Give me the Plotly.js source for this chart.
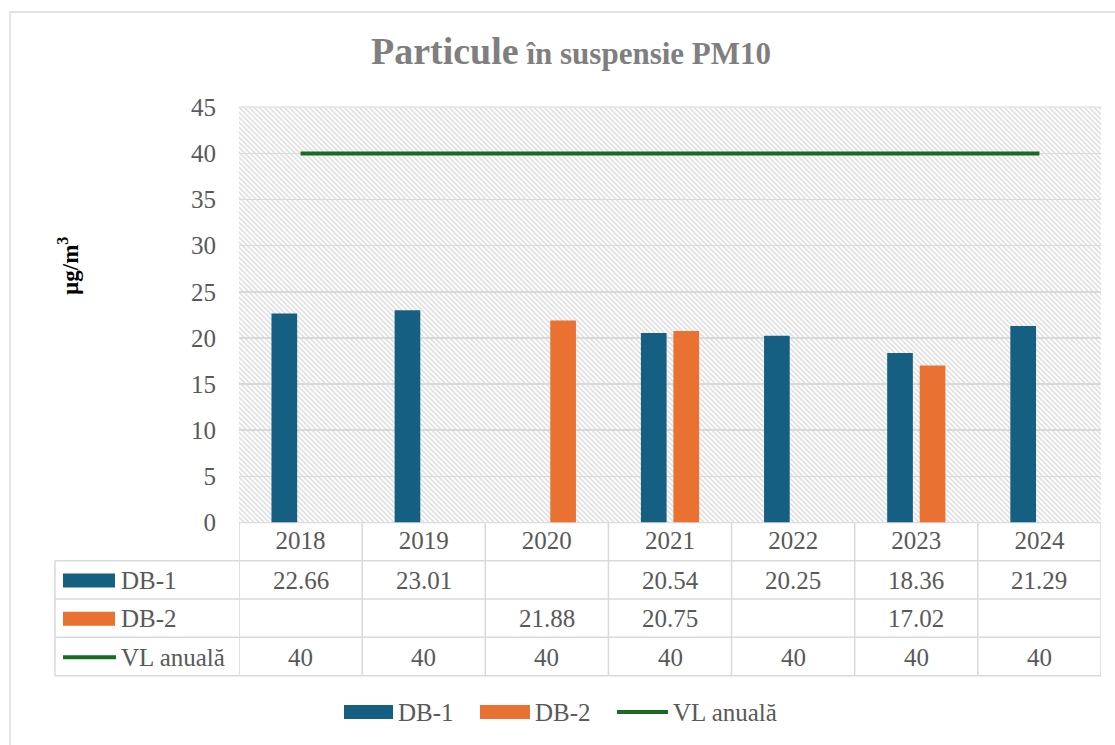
<!DOCTYPE html>
<html>
<head>
<meta charset="utf-8">
<script src="https://cdn.plot.ly/plotly-3.0.1.min.js"></script>
<style>html,body{margin:0;padding:0;background:#fff;}#chart{width:1115px;height:745px;}</style>
</head>
<body>
<div id="chart"></div>
<script>
// ---- data ----
const years = ['2018', '2019', '2020', '2021', '2022', '2023', '2024'];
const db1 = [22.66, 23.01, null, 20.54, 20.25, 18.36, 21.29];
const db2 = [null, null, 21.88, 20.75, null, 17.02, null];
const vlAnuala = [40, 40, 40, 40, 40, 40, 40];
const seriesNames = ['DB-1', 'DB-2', 'VL anuală'];
const yTicks = [0, 5, 10, 15, 20, 25, 30, 35, 40, 45];
const titleMain = 'Particule';
const titleRest = 'în suspensie PM10';
const yTitle = 'µg/m<sup>3</sup>';

// ---- styling ----
const W = 1115, H = 745;
const px = x => x / W;
const py = y => 1 - y / H;
const FONT = '"Liberation Serif", "Times New Roman", "DejaVu Serif", serif';
const TXT = '#595959';
const GRID = '#d9d9d9';
const C1 = '#156082', C2 = '#E97132', C3 = '#196B24';

const plotL = 239, plotR = 1101, plotT = 107.3, plotB = 522.5;
const rowLines = [560.7, 599, 637.3, 675.7];
const rowCenters = [580.5, 618.8, 657.2];
const tableL = 55;

// hatch pattern background
const pw = plotR - plotL, ph = plotB - plotT;
const svg = `<svg xmlns="http://www.w3.org/2000/svg" width="${pw}" height="${ph}" viewBox="0 0 ${pw} ${ph}">` +
  `<defs><pattern id="p" patternUnits="userSpaceOnUse" width="5" height="5">` +
  `<path d="M-1,-1 L6,6 M-1,4 L1,6 M4,-1 L6,1" stroke="#d9d9d9" stroke-width="1.4"/></pattern></defs>` +
  `<rect width="100%" height="100%" fill="#fff"/><rect width="100%" height="100%" fill="url(#p)"/></svg>`;
const svgUri = 'data:image/svg+xml;charset=utf-8,' + encodeURIComponent(svg);

const traces = [
  {type: 'bar', name: seriesNames[0], x: years, y: db1, marker: {color: C1}, hoverinfo: 'x+y+name'},
  {type: 'bar', name: seriesNames[1], x: years, y: db2, marker: {color: C2}, hoverinfo: 'x+y+name'},
  {type: 'scatter', mode: 'lines', name: seriesNames[2], x: years, y: vlAnuala,
   line: {color: C3, width: 4}, hoverinfo: 'x+y+name'}
];

const shapes = [];
const line = (x0, y0, x1, y1, extra) => Object.assign({type: 'line', xref: 'paper', yref: 'paper',
  x0: px(x0), y0: py(y0), x1: px(x1), y1: py(y1), line: {color: GRID, width: 1.5}, layer: 'below'}, extra || {});

// chart outer border
shapes.push({type: 'rect', xref: 'paper', yref: 'paper', x0: px(10), y0: py(12), x1: px(1130), y1: py(760),
  line: {color: GRID, width: 1.3}, fillcolor: 'rgba(0,0,0,0)', layer: 'below'});
// vertical category boundaries (plot + table)
for (let k = 0; k <= years.length; k++) {
  shapes.push({type: 'line', xref: 'x', yref: 'paper', x0: k - 0.5, x1: k - 0.5,
    y0: py(rowLines[rowLines.length - 1]), y1: py(plotT), line: {color: GRID, width: 1.5}, layer: 'below'});
}
// top border & axis line
shapes.push(line(plotL, plotT, plotR, plotT));
shapes.push(line(plotL, plotB, plotR, plotB));
// table horizontal lines
rowLines.forEach(y => shapes.push(line(tableL, y, plotR, y)));
// table left border
shapes.push(line(tableL, rowLines[0], tableL, rowLines[rowLines.length - 1]));

// table legend keys
shapes.push({type: 'rect', xref: 'paper', yref: 'paper', x0: px(63), x1: px(115), y0: py(rowCenters[0] - 7), y1: py(rowCenters[0] + 7),
  fillcolor: C1, line: {width: 0}});
shapes.push({type: 'rect', xref: 'paper', yref: 'paper', x0: px(63), x1: px(115), y0: py(rowCenters[1] - 7), y1: py(rowCenters[1] + 7),
  fillcolor: C2, line: {width: 0}});
shapes.push({type: 'line', xref: 'paper', yref: 'paper', x0: px(63), x1: px(116), y0: py(rowCenters[2]), y1: py(rowCenters[2]),
  line: {color: C3, width: 4}});

// bottom legend keys
shapes.push({type: 'rect', xref: 'paper', yref: 'paper', x0: px(344), x1: px(393), y0: py(705), y1: py(719),
  fillcolor: C1, line: {width: 0}});
shapes.push({type: 'rect', xref: 'paper', yref: 'paper', x0: px(480), x1: px(530), y0: py(705), y1: py(719),
  fillcolor: C2, line: {width: 0}});
shapes.push({type: 'line', xref: 'paper', yref: 'paper', x0: px(617), x1: px(668), y0: py(712), y1: py(712),
  line: {color: C3, width: 4}});

const annotations = [];
const tfont = {family: FONT, size: 25, color: TXT};
// table values (x = category index on the category axis)
[db1, db2, vlAnuala].forEach((arr, i) => {
  arr.forEach((v, j) => {
    if (v === null) return;
    annotations.push({xref: 'x', yref: 'paper', x: j, y: py(rowCenters[i]), text: String(v),
      showarrow: false, xanchor: 'center', yanchor: 'middle', font: tfont});
  });
  annotations.push({xref: 'paper', yref: 'paper', x: px(119), y: py(rowCenters[i]), text: seriesNames[i],
    showarrow: false, xanchor: 'left', yanchor: 'middle', font: tfont});
});
// bottom legend labels
[[396, 0], [533, 1], [671, 2]].forEach(([x, i]) => {
  annotations.push({xref: 'paper', yref: 'paper', x: px(x), y: py(712), text: seriesNames[i],
    showarrow: false, xanchor: 'left', yanchor: 'middle', font: tfont});
});
// y axis title
annotations.push({xref: 'paper', yref: 'paper', x: px(68), y: py(266), text: '<b>' + yTitle + '</b>',
  textangle: -90, showarrow: false, xanchor: 'center', yanchor: 'middle',
  font: {family: FONT, size: 23, color: '#000'}});

const layout = {
  width: W, height: H, autosize: false,
  margin: {l: 0, r: 0, t: 0, b: 0},
  paper_bgcolor: '#fff', plot_bgcolor: '#fff',
  showlegend: false,
  font: {family: FONT},
  title: {text: '<b><span style="font-size:38px">' + titleMain + '</span> ' + titleRest + '</b>',
    font: {family: FONT, size: 31, color: '#7f7f7f'}, x: px(571), xanchor: 'center',
    y: py(53), yanchor: 'middle', yref: 'container'},
  barmode: 'group', bargap: 0.472, bargroupgap: 0.21,
  xaxis: {type: 'category', categoryorder: 'array', categoryarray: years, range: [-0.5, years.length - 0.5],
    domain: [px(plotL), px(plotR)], showgrid: false, zeroline: false, showline: false, ticks: '',
    tickfont: tfont, ticklabelstandoff: 0, fixedrange: true},
  yaxis: {range: [0, 45], tickvals: yTicks, domain: [py(plotB), py(plotT)], showgrid: true,
    gridcolor: GRID, gridwidth: 1.5, zeroline: false, showline: false, ticks: '',
    tickfont: tfont, ticklabelstandoff: 22, fixedrange: true},
  images: [{source: svgUri, xref: 'x', yref: 'y', x: -0.5, y: 45, sizex: years.length, sizey: 45,
    xanchor: 'left', yanchor: 'top', sizing: 'stretch', layer: 'below'}],
  shapes: shapes,
  annotations: annotations
};

Plotly.newPlot('chart', traces, layout, {displayModeBar: false, staticPlot: true});
</script>
</body>
</html>
